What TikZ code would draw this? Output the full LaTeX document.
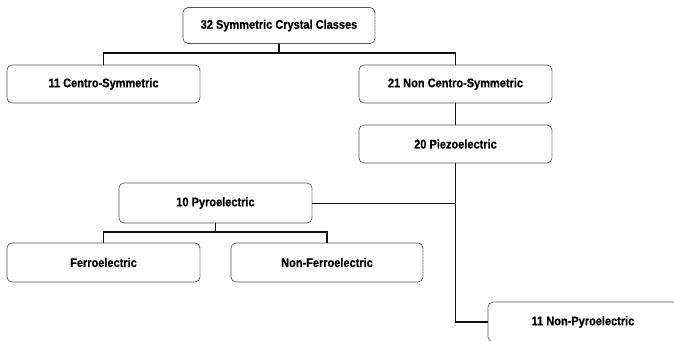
\documentclass[tikz,border=0pt]{standalone}
\usepackage{fontspec}
\setmainfont[FakeStretch=0.88,BoldFeatures={FakeBold=0.6}]{Liberation Sans}
\usetikzlibrary{arrows.meta,positioning,calc}
\definecolor{colEdge}{HTML}{555555}
\definecolor{colLine}{HTML}{111111}
\tikzset{
  block/.style={
    draw=colEdge, rounded corners=5pt,
    dash pattern=on 1.2pt off 0.3pt,
    minimum width=193pt, minimum height=38pt,
    align=center, inner sep=3pt,
    line width=0.7pt, font=\fontsize{12.5}{14}\selectfont\bfseries
  },
  tree/.style ={line width=1.7pt, draw=colLine},
  thin/.style ={line width=1pt, draw=colLine}
}

\begin{document}
\begin{tikzpicture}[x=1pt, y=-1pt]
    \useasboundingbox (0,0) rectangle (674,340);
    \node[block, minimum width=192pt, minimum height=36pt] (top) at (279,25.5) {32 Symmetric Crystal Classes};
    \node[block] (centro) at (103.5,84) {11 Centro-Symmetric};
    \node[block] (noncentro) at (455.5,84) {21 Non Centro-Symmetric};
    \node[block] (piezo) at (455.5,144) {20 Piezoelectric};
    \node[block, minimum height=40pt] (pyro) at (215.5,203) {10 Pyroelectric};
    \node[block, minimum height=39pt] (ferro) at (103.5,262.5) {Ferroelectric};
    \node[block, minimum width=192pt, minimum height=39pt] (nonferro) at (327,262.5) {Non-Ferroelectric};
    \node[block, minimum width=190pt, minimum height=40pt] (nonpyro) at (583,322) {11 Non-Pyroelectric};

    \coordinate (split1) at (279,53);
    \coordinate (split2) at (215.5,232);

    \draw[tree] (top.south) -- (split1);
    \draw[tree] (split1) -| (centro.north);
    \draw[tree] (split1) -| (noncentro.north);
    \draw[tree] (noncentro.south) -- (piezo.north);
    \draw[tree] (piezo.south) |- (nonpyro.west);
    \draw[thin] (pyro.east) -- (piezo.south |- pyro.east);
    \draw[tree] (pyro.south) -- (split2);
    \draw[tree] (split2) -| (ferro.north);
    \draw[tree] (split2) -| (nonferro.north);
  \end{tikzpicture}
\end{document}
